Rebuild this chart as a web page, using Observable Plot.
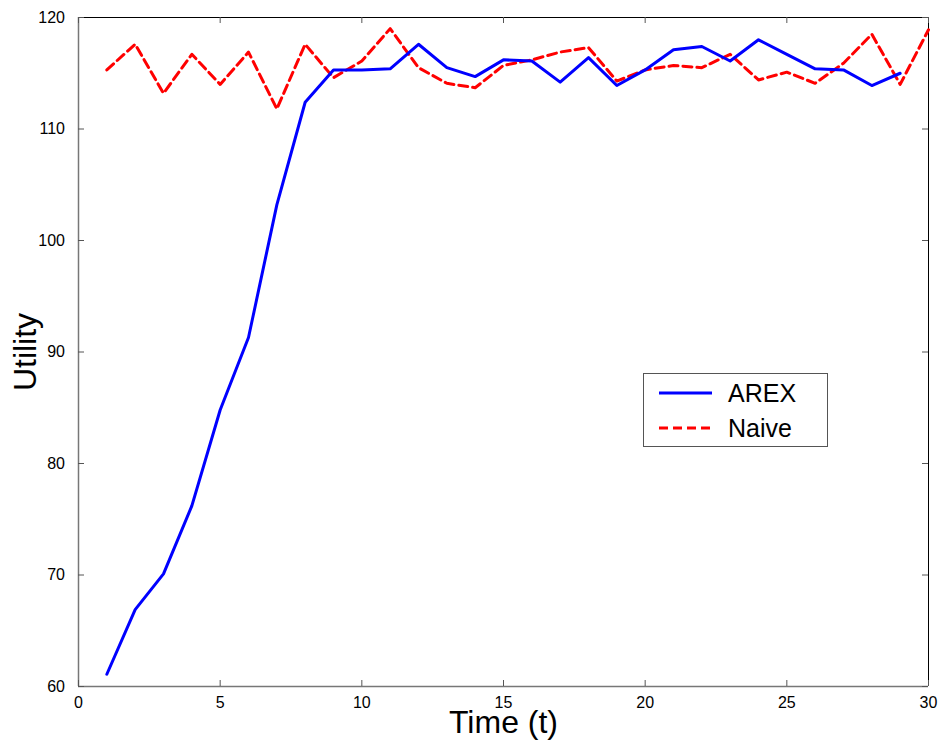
<!DOCTYPE html>
<html>
<head>
<meta charset="utf-8">
<script src="https://cdn.jsdelivr.net/npm/d3@7"></script>
<script src="https://cdn.jsdelivr.net/npm/@observablehq/plot@0.6"></script>
<style>
  body { margin: 0; background: white; }
  #wrap { position: relative; width: 939px; height: 740px; font-family: "Liberation Sans", Arial, sans-serif; }
  g[aria-label="x-axis label"] text, g[aria-label="y-axis label"] text { font-size: 32px; }
  #legend { position: absolute; left: 643px; top: 373px; width: 185px; height: 74px; border: 1px solid #555; background: white; box-sizing: border-box; }
  .row { position: absolute; left: 0; height: 34px; display: flex; align-items: center; font-size: 25px; color: black; }
  .row svg { margin-left: 15px; margin-right: 16px; }
</style>
</head>
<body>
<div id="wrap"></div>
<script>
const seriesNames = ["AREX", "Naive"];
const time = [1,2,3,4,5,6,7,8,9,10,11,12,13,14,15,16,17,18,19,20,21,22,23,24,25,26,27,28,29,30];
const arex = [61.1,66.9,70.1,76.2,84.8,91.3,103.2,112.4,115.3,115.3,115.4,117.6,115.5,114.7,116.2,116.1,114.2,116.4,113.9,115.3,117.1,117.4,116.1,118.0,116.7,115.4,115.3,113.9,115.0];
const naive = [115.3,117.6,113.2,116.7,114.0,116.9,111.8,117.6,114.6,116.1,119.0,115.5,114.1,113.7,115.7,116.2,116.9,117.3,114.3,115.3,115.7,115.5,116.7,114.4,115.1,114.1,115.9,118.5,114.0,118.9];
const xTicks = [0,5,10,15,20,25,30];
const yTicks = [60,70,80,90,100,110,120];
const xLabel = "Time (t)";
const yLabel = "Utility";

const arexData = arex.map((v, i) => ({t: time[i], u: v}));
const naiveData = naive.map((v, i) => ({t: time[i], u: v}));

const W = 939, H = 740, mL = 78, mR = 11, mT = 17, mB = 54;
const innerW = W - mL - mR, innerH = H - mT - mB, tickLen = 6;

const chart = Plot.plot({
  width: W,
  height: H,
  marginLeft: mL,
  marginRight: mR,
  marginTop: mT,
  marginBottom: mB,
  x: {domain: [0, 30]},
  y: {domain: [60, 120]},
  style: {fontFamily: "'Liberation Sans', Arial, sans-serif", fontSize: "16px", color: "black", background: "white"},
  marks: [
    Plot.ruleY([120], {stroke: "black", strokeWidth: 1}),
    Plot.ruleX([30], {stroke: "black", strokeWidth: 1}),
    Plot.ruleY([60], {stroke: "#777", strokeWidth: 1.5}),
    Plot.ruleX([0], {stroke: "#777", strokeWidth: 1.5}),
    // inward ticks on all four sides
    Plot.tickX(xTicks, {x: d => d, stroke: "#555", insetTop: innerH - tickLen}),
    Plot.tickX(xTicks, {x: d => d, stroke: "#555", insetBottom: innerH - tickLen}),
    Plot.tickY(yTicks, {y: d => d, stroke: "#555", insetRight: innerW - tickLen}),
    Plot.tickY(yTicks, {y: d => d, stroke: "#555", insetLeft: innerW - tickLen}),
    Plot.axisX({ticks: xTicks, tickSize: 0, tickPadding: 10.5, label: xLabel, labelAnchor: "center", labelArrow: "none", labelOffset: 46, fill: "black"}),
    Plot.axisY({ticks: yTicks, tickSize: 0, tickPadding: 13.5, label: yLabel, labelAnchor: "center", labelArrow: "none", labelOffset: 65, fill: "black"}),
    Plot.line(naiveData, {x: "t", y: "u", stroke: "#ff0000", strokeWidth: 3, strokeDasharray: "9,5"}),
    Plot.line(arexData, {x: "t", y: "u", stroke: "#0000ff", strokeWidth: 3})
  ]
});
const wrap = document.getElementById("wrap");
wrap.appendChild(chart);

const legend = document.createElement("div");
legend.id = "legend";
const styles = [{c: "#0000ff", d: null}, {c: "#ff0000", d: "9,5"}];
seriesNames.forEach((name, i) => {
  const row = document.createElement("div");
  row.className = "row";
  row.style.top = (2 + i * 35) + "px";
  row.innerHTML = `<svg width="53" height="6"><line x1="0" y1="3" x2="53" y2="3" stroke="${styles[i].c}" stroke-width="3" ${styles[i].d ? `stroke-dasharray="${styles[i].d}"` : ""}/></svg><span>${name}</span>`;
  legend.appendChild(row);
});
wrap.appendChild(legend);
</script>
</body>
</html>
